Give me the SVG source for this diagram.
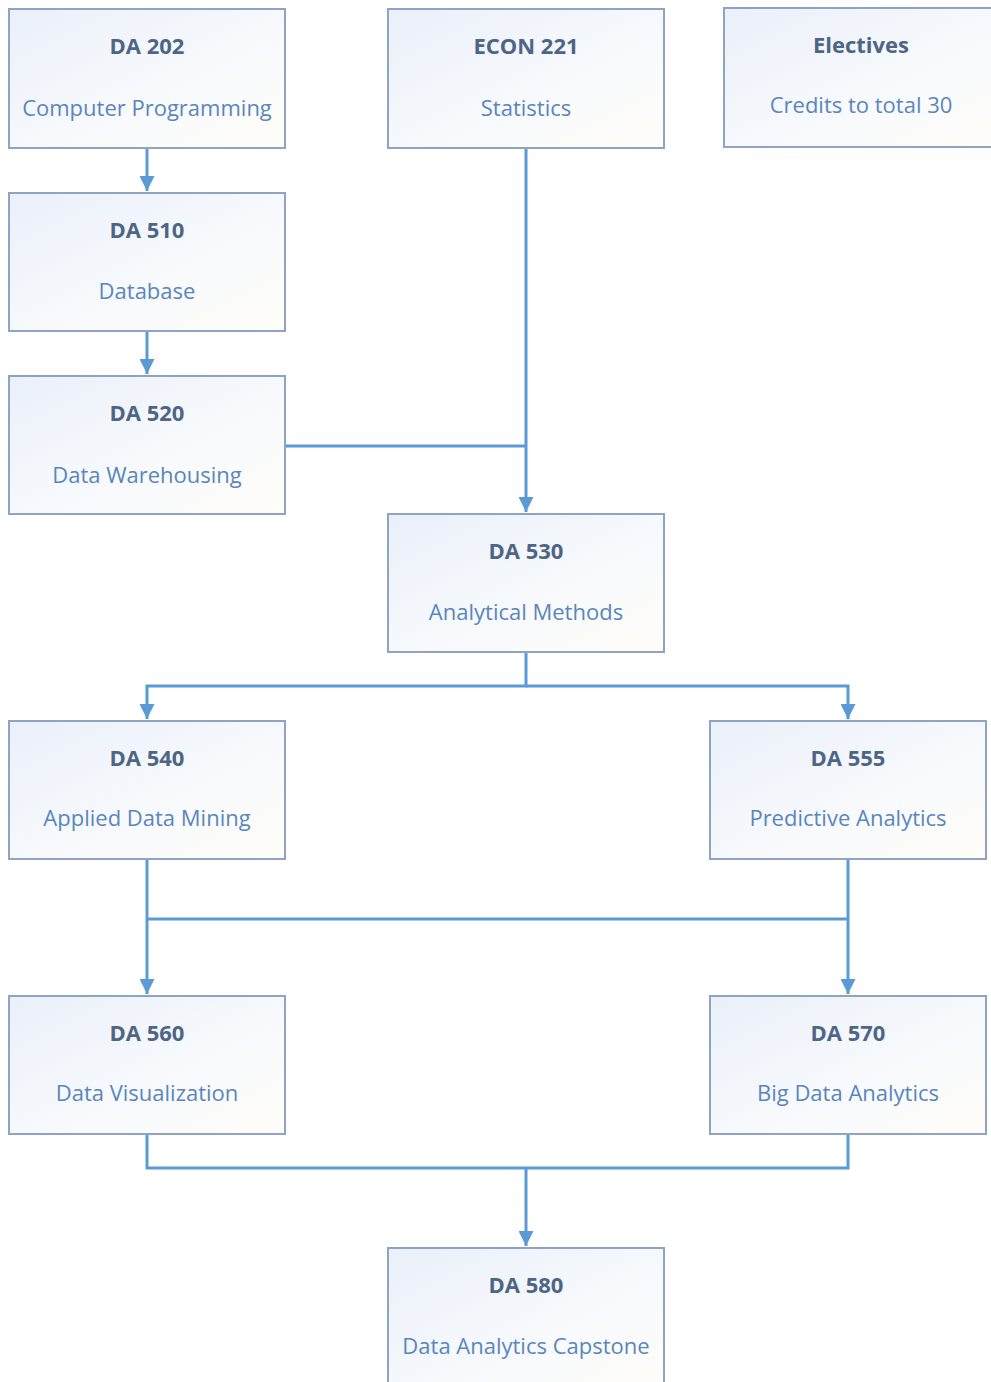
<svg xmlns="http://www.w3.org/2000/svg" width="991" height="1382" viewBox="0 0 991 1382">
<defs>
<linearGradient id="bg" x1="0" y1="0" x2="1" y2="1">
<stop offset="0" stop-color="#eaf0f9"/>
<stop offset="0.6" stop-color="#f8fafd"/>
<stop offset="1" stop-color="#fffdf8"/>
</linearGradient>
<marker id="arr" viewBox="0 0 10 10" refX="10" refY="5" markerWidth="5" markerHeight="5" orient="auto" markerUnits="strokeWidth">
<path d="M0,0 L10,5 L0,10 z" fill="#5b9bd5"/>
</marker>
<style>
.box{fill:url(#bg);stroke:#8ea4c2;stroke-width:2}
.t{font-family:"Open Sans","Noto Sans",sans-serif;font-weight:bold;font-size:22px;fill:#4e6585;text-anchor:middle}
.s{font-family:"Open Sans","Noto Sans",sans-serif;font-size:22px;fill:#5a86bd;text-anchor:middle}
.c{fill:none;stroke:#5b9bd5;stroke-width:3}
</style>
</defs>
<rect width="991" height="1382" fill="#ffffff"/>
<g id="connectors">
<path class="c" d="M147,148 V191" marker-end="url(#arr)"/>
<path class="c" d="M147,331 V374" marker-end="url(#arr)"/>
<path class="c" d="M526,148 V512" marker-end="url(#arr)"/>
<path class="c" d="M285,446 H526"/>
<path class="c" d="M526,652 V686 H147 V719" marker-end="url(#arr)"/>
<path class="c" d="M526,686 H848 V719" marker-end="url(#arr)"/>
<path class="c" d="M147,859 V994" marker-end="url(#arr)"/>
<path class="c" d="M848,859 V994" marker-end="url(#arr)"/>
<path class="c" d="M147,919 H848"/>
<path class="c" d="M147,1134 V1168 H848 V1134"/>
<path class="c" d="M526,1168 V1246" marker-end="url(#arr)"/>
</g>
<g id="da202"><rect class="box" x="9" y="9" width="276" height="139"/><text class="t" x="147" y="54">DA 202</text><text class="s" x="147" y="116">Computer Programming</text></g>
<g id="econ221"><rect class="box" x="388" y="9" width="276" height="139"/><text class="t" x="526" y="54">ECON 221</text><text class="s" x="526" y="116">Statistics</text></g>
<g id="electives"><rect class="box" x="724" y="8" width="276" height="139"/><text class="t" x="861" y="53">Electives</text><text class="s" x="861" y="113">Credits to total 30</text></g>
<g id="da510"><rect class="box" x="9" y="193" width="276" height="138"/><text class="t" x="147" y="238">DA 510</text><text class="s" x="147" y="299">Database</text></g>
<g id="da520"><rect class="box" x="9" y="376" width="276" height="138"/><text class="t" x="147" y="421">DA 520</text><text class="s" x="147" y="483">Data Warehousing</text></g>
<g id="da530"><rect class="box" x="388" y="514" width="276" height="138"/><text class="t" x="526" y="559">DA 530</text><text class="s" x="526" y="620">Analytical Methods</text></g>
<g id="da540"><rect class="box" x="9" y="721" width="276" height="138"/><text class="t" x="147" y="766">DA 540</text><text class="s" x="147" y="826">Applied Data Mining</text></g>
<g id="da555"><rect class="box" x="710" y="721" width="276" height="138"/><text class="t" x="848" y="766">DA 555</text><text class="s" x="848" y="826">Predictive Analytics</text></g>
<g id="da560"><rect class="box" x="9" y="996" width="276" height="138"/><text class="t" x="147" y="1041">DA 560</text><text class="s" x="147" y="1101">Data Visualization</text></g>
<g id="da570"><rect class="box" x="710" y="996" width="276" height="138"/><text class="t" x="848" y="1041">DA 570</text><text class="s" x="848" y="1101">Big Data Analytics</text></g>
<g id="da580"><rect class="box" x="388" y="1248" width="276" height="150"/><text class="t" x="526" y="1293">DA 580</text><text class="s" x="526" y="1354">Data Analytics Capstone</text></g>
</svg>
